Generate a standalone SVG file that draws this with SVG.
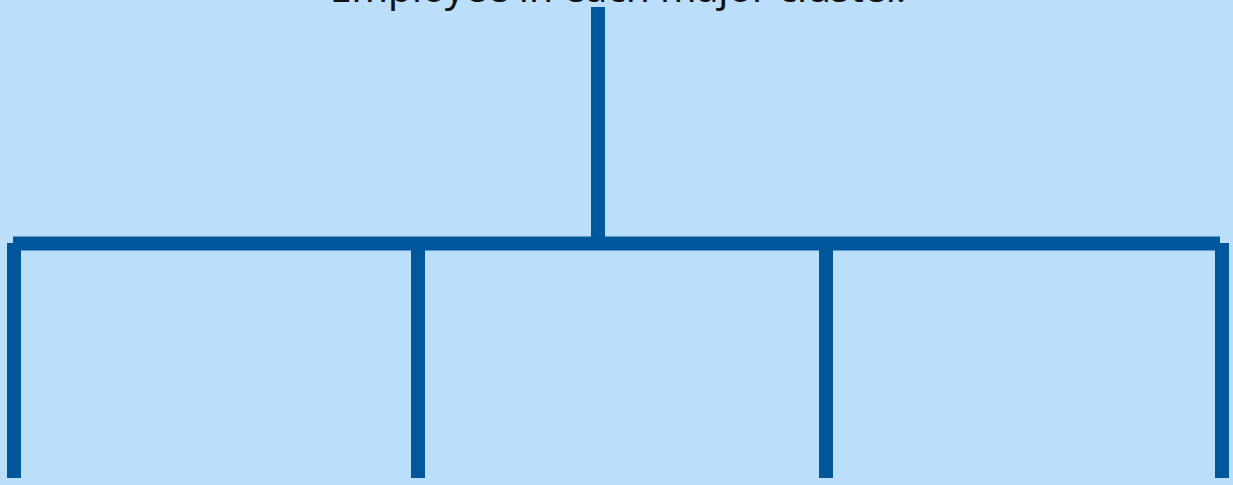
<svg xmlns="http://www.w3.org/2000/svg" width="1233" height="485" viewBox="0 0 1233 485">
  <style>
    .bg { fill: #bbdefb; }
    .conn { stroke: #01579b; stroke-width: 14; fill: none; stroke-linecap: butt; }
    .label { font-family: "Noto Sans", "Open Sans", sans-serif; font-size: 39px; fill: #111111; text-anchor: middle; }
  </style>
  <rect class="bg" x="0" y="0" width="1233" height="485"/>
  <g id="node-root">
    <text class="label" x="618" y="1.5">Employee in each major cluster.</text>
  </g>
  <g id="connectors">
    <path class="conn" d="M598 7 V237"/>
    <path class="conn" d="M13 243.5 H1220"/>
    <path class="conn" d="M14 243 V478"/>
    <path class="conn" d="M418 243 V478"/>
    <path class="conn" d="M826 243 V478"/>
    <path class="conn" d="M1222 243 V478"/>
  </g>
</svg>
